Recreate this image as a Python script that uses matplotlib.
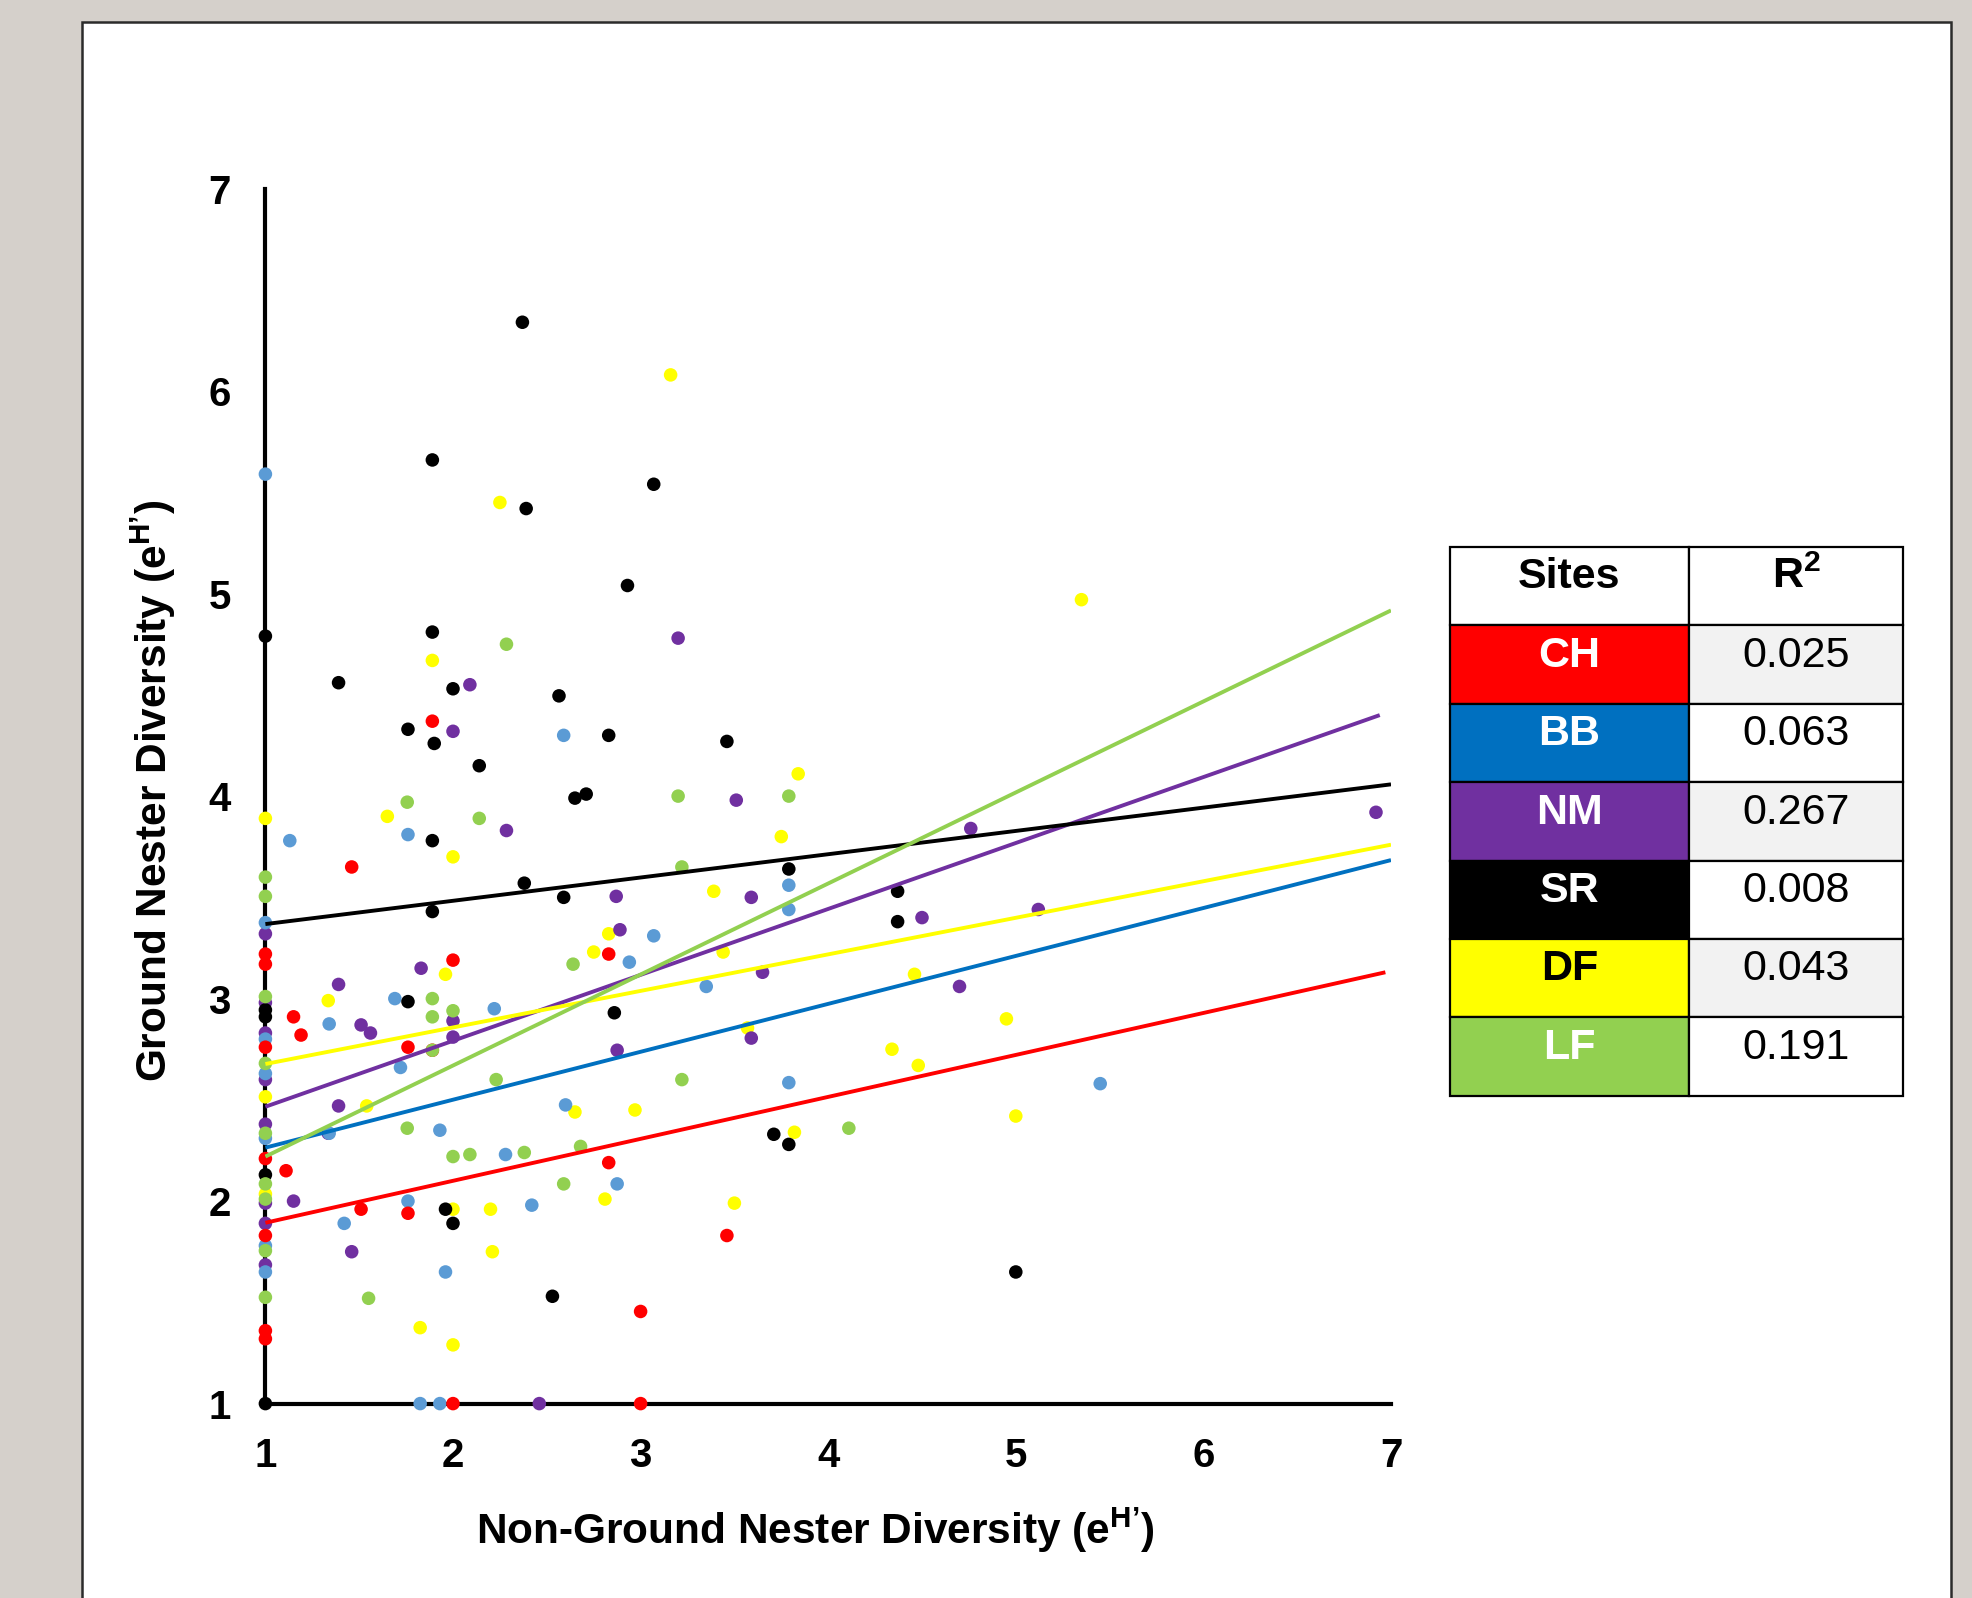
import matplotlib
matplotlib.use("Agg")
import matplotlib.pyplot as plt
from matplotlib.patches import Rectangle

plt.rcParams['font.family'] = ['Liberation Sans', 'DejaVu Sans']
plt.rcParams['mathtext.fontset'] = 'custom'
plt.rcParams['mathtext.rm'] = 'Liberation Sans'
plt.rcParams['mathtext.bf'] = 'Liberation Sans:bold'

# ---------------- data ----------------
sites = ["CH", "BB", "NM", "SR", "DF", "LF"]
r_squared = ["0.025", "0.063", "0.267", "0.008", "0.043", "0.191"]

ch_x = [1.89, 1.46, 2.0, 2.83, 1, 1, 1.15, 1.19, 1, 1.76, 1.89, 1, 1.11, 1.51, 1.76,
        1, 2.83, 3.46, 3.0, 1, 1, 2.0, 3.0]
ch_y = [4.37, 3.65, 3.19, 3.22, 3.22, 3.17, 2.91, 2.82, 2.76, 2.76, 2.745, 2.21, 2.15, 1.96, 1.94,
        1.83, 2.19, 1.83, 1.455, 1.36, 1.32, 1.0, 1.0]

bb_x = [1, 1.13, 2.59, 1.76, 3.79, 3.79, 3.07, 2.94, 3.35, 1.69, 2.22, 1.34, 1.72, 1, 1, 1,
        2.60, 1.93, 1.34, 2.28, 3.79, 5.45, 2.875, 1, 1.76, 2.42, 1.42, 1.96, 1, 1, 1.825, 1.93]
bb_y = [5.59, 3.78, 4.30, 3.81, 3.56, 3.44, 3.31, 3.18, 3.06, 3.0, 2.95, 2.875, 2.66, 3.375, 2.80, 2.63,
        2.475, 2.35, 2.335, 2.23, 2.585, 2.58, 2.085, 2.31, 2.0, 1.98, 1.89, 1.65, 1.78, 1.65, 1.0, 1.0]

nm_x = [3.20, 2.09, 2.0, 2.285, 3.51, 4.76, 6.92, 2.87, 3.59, 4.50, 5.12, 1, 2.89, 3.65, 1.83,
        1.39, 4.70, 1.51, 1.56, 2.0, 2.0, 3.59, 2.875, 1, 1, 1, 1.39, 1, 1.335, 1.15, 1, 1, 1.46, 1, 2.46]
nm_y = [4.78, 4.55, 4.32, 3.83, 3.98, 3.84, 3.92, 3.505, 3.50, 3.40, 3.44, 3.32, 3.34, 3.13, 3.15,
        3.07, 3.06, 2.87, 2.83, 2.89, 2.81, 2.805, 2.745, 2.98, 2.83, 2.60, 2.47, 2.38, 2.335, 2.0, 1.99,
        1.89, 1.75, 1.685, 1.0]

sr_x = [2.37, 1.89, 3.07, 2.39, 2.93, 1.89, 1.39, 2.0, 2.565, 1.76, 1.90, 2.83, 2.14, 3.46, 2.65,
        2.71, 1.89, 3.79, 2.38, 2.59, 1.89, 4.37, 4.37, 1.76, 2.86, 1, 1, 1, 1, 1, 1.96, 2.0, 3.71,
        3.79, 2.53, 5.0]
sr_y = [6.34, 5.66, 5.54, 5.42, 5.04, 4.81, 4.56, 4.53, 4.495, 4.33, 4.26, 4.30, 4.15, 4.27, 3.99,
        4.01, 3.78, 3.64, 3.57, 3.50, 3.43, 3.53, 3.38, 2.985, 2.93, 4.79, 2.944, 2.91, 2.13, 1.0, 1.96,
        1.89, 2.33, 2.28, 1.53, 1.65]

df_x = [3.16, 2.25, 5.35, 1.89, 3.84, 1.65, 1, 3.75, 2.0, 3.39, 2.83, 3.44, 2.75, 1.96, 1.335, 1,
        1.54, 2.65, 2.97, 4.34, 4.48, 4.95, 4.46, 5.0, 3.82, 2.81, 2.20, 3.50, 2.0, 2.21, 1.825, 2.0,
        3.57, 1]
df_y = [6.08, 5.45, 4.97, 4.67, 4.11, 3.90, 3.89, 3.80, 3.70, 3.53, 3.32, 3.23, 3.23, 3.12, 2.99, 2.515,
        2.47, 2.44, 2.45, 2.75, 2.67, 2.90, 3.12, 2.42, 2.34, 2.01, 1.96, 1.99, 1.96, 1.75, 1.375, 1.29,
        2.855, 2.035]

lf_x = [2.285, 1.756, 2.14, 3.20, 3.79, 3.22, 1, 1, 2.64, 1.89, 1.89, 2.0, 1, 1, 2.23, 3.22, 1.756,
        4.11, 2.68, 2.0, 2.09, 2.38, 2.59, 1, 1, 1, 1, 1, 1.55, 1.89]
lf_y = [4.75, 3.97, 3.89, 4.0, 4.0, 3.65, 3.60, 3.505, 3.17, 3.0, 2.91, 2.94, 3.01, 2.68, 2.60, 2.60, 2.36,
        2.36, 2.27, 2.22, 2.23, 2.24, 2.085, 2.335, 2.085, 2.01, 1.755, 1.525, 1.52, 2.745]

# trend line end points (CH, BB, NM, SR, DF, LF)
trend_x0 = [1, 1, 1, 1, 1, 1]
trend_x1 = [6.97, 7, 6.94, 7, 7, 7]
trend_y0 = [1.893, 2.264, 2.466, 3.368, 2.677, 2.22]
trend_y1 = [3.13, 3.684, 4.40, 4.058, 3.76, 4.917]

x_ticks = [1, 2, 3, 4, 5, 6, 7]
y_ticks = [1, 2, 3, 4, 5, 6, 7]

# ---------------- style ----------------
point_colors = {"CH": "#FF0000", "BB": "#5B9BD5", "NM": "#7030A0",
                "SR": "#000000", "DF": "#FFFF00", "LF": "#92D050"}
line_colors = {"CH": "#FF0000", "BB": "#0070C0", "NM": "#7030A0",
               "SR": "#000000", "DF": "#FFFF00", "LF": "#92D050"}
cell_colors = {"CH": "#FF0000", "BB": "#0070C0", "NM": "#7030A0",
               "SR": "#000000", "DF": "#FFFF00", "LF": "#92D050"}
cell_text_colors = {"CH": "white", "BB": "white", "NM": "white",
                    "SR": "white", "DF": "black", "LF": "white"}

series = {"CH": (ch_x, ch_y), "BB": (bb_x, bb_y), "NM": (nm_x, nm_y),
          "SR": (sr_x, sr_y), "DF": (df_x, df_y), "LF": (lf_x, lf_y)}
draw_order = ["DF", "NM", "BB", "CH", "SR", "LF"]

W, H = 1972, 1598
fig = plt.figure(figsize=(W / 100, H / 100), dpi=100)
fig.patch.set_facecolor('#d5d0cb')

# background panel + table (pixel coordinates)
bg = fig.add_axes([0, 0, 1, 1], zorder=-1)
bg.set_xlim(0, W)
bg.set_ylim(H, 0)
bg.axis('off')
bg.add_patch(Rectangle((81.5, 21.5), 1951 - 81.5, H, facecolor='white',
                       edgecolor='#2b2b2b', lw=1.8))

tx0, tx1, tx2 = 1450, 1689, 1903
ty0, rh = 547, 78.4
TFS = 31
bg.add_patch(Rectangle((tx0, ty0), tx1 - tx0, rh, fc='white', ec='black', lw=1.6))
bg.add_patch(Rectangle((tx1, ty0), tx2 - tx1, rh, fc='white', ec='black', lw=1.6))
bg.text((tx0 + tx1) / 2, ty0 + 41, "Sites", ha='center', va='baseline',
        fontsize=TFS, fontweight='bold', color='black')
bg.text((tx1 + tx2) / 2, ty0 + 41, "R$^{\\mathbf{2}}$", ha='center', va='baseline',
        fontsize=TFS, fontweight='bold', color='black')
for i, (site, r2) in enumerate(zip(sites, r_squared)):
    top = ty0 + (i + 1) * rh
    bg.add_patch(Rectangle((tx0, top), tx1 - tx0, rh, fc=cell_colors[site],
                           ec='black', lw=1.6))
    bg.add_patch(Rectangle((tx1, top), tx2 - tx1, rh,
                           fc='#F2F2F2' if i % 2 == 0 else 'white', ec='black', lw=1.6))
    bg.text((tx0 + tx1) / 2, top + 41.5, site, ha='center', va='baseline',
            fontsize=TFS, fontweight='bold', color=cell_text_colors[site])
    bg.text((tx1 + tx2) / 2, top + 41.5, r2, ha='center', va='baseline',
            fontsize=TFS, color='black')

# main axes
FS = 29
LFS = 30.5
ax = fig.add_axes([265.4 / W, 1 - 1403.6 / H, (1391 - 265.4) / W, (1403.6 - 188.6) / H])
ax.set_facecolor('none')
ax.set_xlim(1, 7)
ax.set_ylim(1, 7)
for s in ['top', 'right']:
    ax.spines[s].set_visible(False)
for s in ['left', 'bottom']:
    ax.spines[s].set_linewidth(3.0)
    ax.spines[s].set_color('black')
ax.set_xticks(x_ticks)
ax.set_yticks(y_ticks)
ax.set_xticklabels([str(v) for v in x_ticks])
ax.set_yticklabels([str(v) for v in y_ticks])
ax.tick_params(axis='x', length=0, labelsize=FS, pad=24)
ax.tick_params(axis='y', length=0, labelsize=FS, pad=25)
for lbl in ax.get_xticklabels() + ax.get_yticklabels():
    lbl.set_fontweight('bold')

for k, site in enumerate(draw_order):
    xs, ys = series[site]
    ax.scatter(xs, ys, s=95, color=point_colors[site], edgecolors='none',
               zorder=3 + k * 0.01, clip_on=False)

for i, site in enumerate(sites):
    ax.plot([trend_x0[i], trend_x1[i]], [trend_y0[i], trend_y1[i]],
            color=line_colors[site], lw=2.8, zorder=4, solid_capstyle='butt')

fig.text(815.8 / W, 1 - 1530.6 / H, "Non-Ground Nester Diversity (e$^{\\mathbf{H’}}$)",
         ha='center', va='center', fontsize=LFS, fontweight='bold')
fig.text(153.5 / W, 1 - 791 / H, "Ground Nester Diversity (e$^{\\mathbf{H’}}$)",
         ha='center', va='center', rotation=90, fontsize=LFS, fontweight='bold')

fig.savefig("out.png", dpi=100, facecolor=fig.get_facecolor())
